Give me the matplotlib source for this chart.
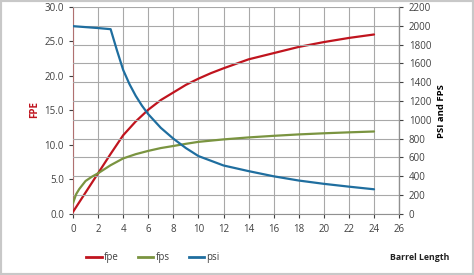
import matplotlib
matplotlib.use("Agg")
import matplotlib.pyplot as plt
from matplotlib.lines import Line2D

plt.rcParams['font.family'] = ['Open Sans', 'DejaVu Sans']

# Data
fpe_x = [0, 0.5, 1, 1.5, 2, 3, 4, 5, 6, 7, 8, 9, 10, 11, 12, 14, 16, 18, 20, 22, 24]
fpe_y = [0.3, 1.7, 3.1, 4.5, 5.9, 8.7, 11.4, 13.4, 15.1, 16.5, 17.6, 18.7, 19.6, 20.4, 21.1,
         22.4, 23.3, 24.2, 24.9, 25.5, 26.0]

fps_x = [0, 0.25, 0.5, 1, 1.5, 2, 3, 4, 5, 6, 7, 8, 9, 10, 12, 14, 16, 18, 20, 22, 24]
fps_y = [114, 210, 265, 350, 395, 432, 518, 590, 635, 670, 700, 722, 745, 766, 792, 813,
         830, 845, 857, 867, 876]

psi_x = [0, 1, 2, 3, 3.5, 4, 4.5, 5, 5.5, 6, 7, 8, 9, 10, 12, 14, 16, 18, 20, 22, 24]
psi_y = [1995, 1985, 1975, 1963, 1740, 1530, 1380, 1255, 1150, 1060, 915, 800, 700, 615,
         515, 455, 400, 355, 320, 290, 262]

x_ticks = list(range(0, 27, 2))
left_ticks = [0, 5, 10, 15, 20, 25, 30]
right_ticks = list(range(0, 2201, 200))

c_fpe = '#C0141E'
c_fps = '#7A9440'
c_psi = '#1F6E9F'
grid_c = '#A8A8A8'
txt_c = '#404040'

fig = plt.figure(figsize=(4.74, 2.75), dpi=100)
fig.patch.set_facecolor('white')
fig.patches.append(plt.Rectangle((0, 0), 1, 1, transform=fig.transFigure,
                                 fill=False, edgecolor='#C8C8C8', linewidth=3))

ax = fig.add_axes([0.154, 0.222, 0.688, 0.753])
ax2 = ax.twinx()

ax.set_xlim(0, 26)
ax.set_ylim(0, 30)
ax2.set_ylim(0, 2200)

ax.set_xticks(x_ticks)
ax.set_yticks(left_ticks)
ax.set_yticklabels([f"{v:.1f}" for v in left_ticks])
ax2.set_yticks(right_ticks)

# grid: vertical from x axis, horizontal from right axis
ax.grid(axis='x', color=grid_c, linewidth=0.8)
ax2.grid(axis='y', color=grid_c, linewidth=0.8)
ax.set_axisbelow(True)
ax2.set_axisbelow(True)

kw = dict(linewidth=1.6, zorder=3, solid_joinstyle='round', solid_capstyle='round')
ax.plot(fpe_x, fpe_y, color=c_fpe, **kw)
ax2.plot(fps_x, fps_y, color=c_fps, **kw)
ax2.plot(psi_x, psi_y, color=c_psi, **kw)

for a in (ax, ax2):
    a.spines['top'].set_visible(False)
    a.tick_params(labelsize=7, colors=txt_c, length=3, width=0.8)
ax.spines['left'].set_color('#B07070')
ax.spines['bottom'].set_color('#909090')
ax2.spines['left'].set_visible(False)
ax2.spines['bottom'].set_visible(False)
ax2.spines['right'].set_color('#909090')
ax.tick_params(axis='x', pad=4)
ax2.tick_params(axis='y', pad=4)

fig.text(0.072, 0.60, 'FPE', rotation=90, color=c_fpe, fontsize=7,
         fontweight='bold', ha='center', va='center')
fig.text(0.932, 0.595, 'PSI and FPS', rotation=90, color='black', fontsize=6.8,
         fontweight='bold', ha='center', va='center')
fig.text(0.822, 0.062, 'Barrel Length', color='#222222', fontsize=6.3,
         fontweight='bold', ha='left', va='center')

handles = [Line2D([], [], color=c_fpe, lw=2),
           Line2D([], [], color=c_fps, lw=2),
           Line2D([], [], color=c_psi, lw=2)]
fig.legend(handles, ['fpe', 'fps', 'psi'], loc='center left',
           bbox_to_anchor=(0.163, 0.062), ncol=3, frameon=False,
           fontsize=7, handlelength=1.6, handletextpad=0.2,
           columnspacing=2.0, labelcolor=txt_c)

fig.savefig('out.png', dpi=100)
